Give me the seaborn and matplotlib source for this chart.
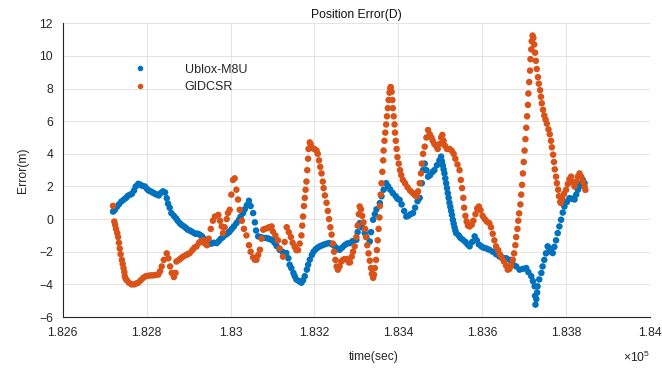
import matplotlib
matplotlib.use("Agg")
import matplotlib.pyplot as plt
import pandas as pd
import seaborn as sns
from matplotlib.ticker import FuncFormatter

# ---------------- data ----------------
ublox_time = [
    182720, 182724, 182729, 182734, 182740, 182746, 182751, 182755, 182760, 182765,
    182770, 182774, 182780, 182784, 182789, 182796, 182801, 182805, 182810, 182815,
    182820, 182824, 182829, 182834, 182839, 182844, 182848, 182851, 182855, 182859,
    182865, 182870, 182874, 182879, 182883, 182889, 182894, 182898, 182903, 182907,
    182913, 182917, 182922, 182927, 182932, 182936, 182941, 182946, 182951, 182955,
    182960, 182967, 182972, 182977, 182982, 182989, 182994, 182998, 183003, 183008,
    183014, 183020, 183024, 183030, 183034, 183039, 183044, 183048, 183054, 183058,
    183061, 183066, 183072, 183079, 183086, 183091, 183096, 183101, 183105, 183110,
    183117, 183124, 183133, 183138, 183141, 183145, 183150, 183153, 183157, 183163,
    183169, 183173, 183177, 183182, 183185, 183189, 183194, 183198, 183203, 183208,
    183213, 183219, 183224, 183230, 183236, 183242, 183248, 183254, 183260, 183266,
    183272, 183278, 183284, 183291, 183300, 183303, 183308, 183313, 183320, 183324,
    183332, 183335, 183340, 183344, 183348, 183356, 183360, 183365, 183371, 183376,
    183381, 183387, 183394, 183398, 183403, 183408, 183414, 183419, 183424, 183429,
    183435, 183440, 183446, 183451, 183456, 183459, 183463, 183467, 183471, 183476,
    183482, 183486, 183492, 183498, 183502, 183504, 183506, 183508, 183510, 183512,
    183514, 183516, 183518, 183520, 183522, 183524, 183526, 183528, 183530, 183532,
    183534, 183536, 183538, 183544, 183548, 183554, 183560, 183565, 183570, 183576,
    183582, 183587, 183592, 183598, 183603, 183610, 183617, 183625, 183633, 183641,
    183648, 183657, 183665, 183672, 183681, 183689, 183697, 183705, 183710, 183717,
    183721, 183725, 183726, 183727, 183729, 183731, 183732, 183736, 183741, 183744,
    183748, 183752, 183756, 183760, 183764, 183768, 183772, 183776, 183780, 183784,
    183788, 183792, 183796, 183802, 183808, 183814, 183820, 183824, 183828, 183832,
    183836, 183840, 183844,
]
ublox_err = [
    0.46, 0.55, 0.75, 0.9, 1.08, 1.2, 1.3, 1.42, 1.49, 1.55,
    1.75, 2.0, 2.16, 2.12, 2.05, 2.0, 1.85, 1.75, 1.7, 1.62,
    1.55, 1.5, 1.45, 1.6, 1.7, 1.63, 1.28, 0.95, 0.7, 0.37,
    0.2, 0.05, -0.1, -0.25, -0.35, -0.45, -0.55, -0.65, -0.7, -0.76,
    -0.85, -0.9, -0.9, -0.96, -1.05, -1.2, -1.3, -1.4, -1.5, -1.5,
    -1.45, -1.47, -1.35, -1.2, -1.1, -0.95, -0.85, -0.76, -0.6, -0.45,
    -0.25, -0.05, 0.15, 0.37, 0.6, 0.85, 1.12, 0.8, 0.37, -0.2,
    -0.7, -1.06, -1.1, -1.15, -1.16, -1.2, -1.25, -1.3, -1.45, -1.65,
    -1.88, -2.0, -2.08, -2.4, -2.8, -3.0, -3.3, -3.5, -3.7, -3.8,
    -3.9, -3.75, -3.5, -3.1, -2.8, -2.49, -2.2, -2.0, -1.85, -1.75,
    -1.67, -1.6, -1.55, -1.5, -1.47, -1.55, -1.65, -1.8, -1.88, -1.75,
    -1.6, -1.5, -1.47, -1.35, -1.27, -0.8, -0.25, -0.5, -0.86, -1.1,
    -1.37, -0.8, -0.04, 0.3, 0.6, 0.98, 1.4, 1.8, 2.2, 2.0,
    1.8, 1.59, 1.4, 1.25, 1.18, 0.9, 0.5, 0.16, 0.2, 0.3,
    0.37, 0.7, 1.1, 1.3, 2.2, 3.0, 3.4, 3.0, 2.6, 2.7,
    2.9, 3.0, 3.3, 3.6, 3.83, 3.55, 3.3, 3.05, 2.8, 2.5,
    2.2, 1.9, 1.59, 1.3, 1.0, 0.75, 0.5, 0.25, -0.04, -0.27,
    -0.5, -0.7, -0.86, -1.0, -1.15, -1.27, -1.4, -1.55, -1.67, -1.4,
    -1.06, -1.3, -1.55, -1.67, -1.75, -1.8, -1.88, -2.0, -2.15, -2.29,
    -2.35, -2.4, -2.49, -2.7, -2.9, -3.1, -3.05, -3.0, -3.25, -3.5,
    -3.8, -4.12, -4.7, -5.24, -4.9, -4.5, -4.12, -3.7, -3.3, -2.9,
    -2.5, -2.1, -1.67, -1.8, -2.0, -2.08, -1.7, -1.3, -0.86, -0.45,
    -0.04, 0.4, 0.77, 1.05, 1.28, 1.25, 1.2, 1.5, 1.79, 2.0,
    2.2, 2.4, 2.2,
]

gidcsr_time = [
    182720, 182723, 182725, 182727, 182730, 182732, 182734, 182736, 182738, 182741,
    182743, 182745, 182747, 182748, 182750, 182753, 182758, 182764, 182770, 182775,
    182780, 182786, 182792, 182798, 182804, 182810, 182816, 182822, 182828, 182832,
    182836, 182841, 182848, 182852, 182856, 182860, 182865, 182869, 182871, 182877,
    182882, 182887, 182894, 182898, 182903, 182909, 182914, 182919, 182925, 182929,
    182935, 182939, 182944, 182948, 182953, 182958, 182963, 182971, 182975, 182979,
    182982, 182986, 182991, 182994, 182998, 183002, 183006, 183010, 183014, 183018,
    183022, 183027, 183032, 183038, 183044, 183048, 183054, 183058, 183062, 183066,
    183070, 183074, 183078, 183082, 183088, 183092, 183098, 183101, 183107, 183113,
    183117, 183125, 183129, 183134, 183139, 183144, 183148, 183153, 183157, 183161,
    183165, 183169, 183171, 183173, 183175, 183177, 183179, 183181, 183183, 183185,
    183186, 183189, 183191, 183195, 183200, 183205, 183208, 183211, 183214, 183217,
    183220, 183222, 183225, 183229, 183232, 183235, 183238, 183241, 183244, 183247,
    183250, 183253, 183256, 183260, 183264, 183268, 183272, 183277, 183282, 183285,
    183289, 183292, 183296, 183300, 183303, 183306, 183308, 183311, 183314, 183317,
    183321, 183323, 183326, 183329, 183332, 183335, 183337, 183340, 183342, 183344,
    183347, 183349, 183351, 183353, 183355, 183356, 183358, 183360, 183362, 183364,
    183365, 183367, 183369, 183371, 183373, 183375, 183377, 183379, 183381, 183382,
    183384, 183386, 183387, 183389, 183391, 183392, 183394, 183396, 183398, 183401,
    183404, 183407, 183411, 183416, 183422, 183428, 183434, 183440, 183444, 183447,
    183451, 183454, 183456, 183459, 183463, 183467, 183471, 183475, 183479, 183482,
    183486, 183491, 183494, 183498, 183502, 183505, 183508, 183511, 183516, 183522,
    183527, 183532, 183536, 183541, 183546, 183549, 183552, 183555, 183557, 183560,
    183563, 183566, 183570, 183575, 183579, 183584, 183588, 183592, 183596, 183601,
    183606, 183611, 183617, 183621, 183625, 183629, 183633, 183638, 183642, 183647,
    183652, 183657, 183661, 183665, 183669, 183673, 183676, 183679, 183681, 183684,
    183686, 183688, 183691, 183693, 183695, 183697, 183699, 183701, 183703, 183705,
    183707, 183709, 183710, 183712, 183714, 183715, 183717, 183718, 183720, 183722,
    183724, 183726, 183728, 183730, 183733, 183735, 183738, 183740, 183742, 183745,
    183748, 183751, 183754, 183758, 183761, 183764, 183766, 183769, 183771, 183773,
    183776, 183778, 183781, 183783, 183786, 183788, 183791, 183795, 183800, 183804,
    183808, 183812, 183816, 183820, 183824, 183828, 183832, 183836, 183840, 183844,
    183846,
]
gidcsr_err = [
    0.81, -0.15, -0.35, -0.6, -0.85, -1.1, -1.45, -1.8, -2.15, -2.5,
    -2.75, -3.0, -3.25, -3.5, -3.65, -3.75, -3.9, -4.0, -4.0, -3.95,
    -3.9, -3.75, -3.6, -3.5, -3.47, -3.45, -3.45, -3.42, -3.4, -3.2,
    -2.9, -2.5, -2.1, -2.4, -2.9, -3.3, -3.55, -3.3, -2.6, -2.5,
    -2.4, -2.3, -2.2, -2.15, -2.08, -1.9, -1.75, -1.67, -1.45, -1.35,
    -1.3, -1.5, -1.6, -1.2, -0.6, -0.1, 0.16, 0.26, -0.1, -0.45,
    -0.86, -0.5, 0.0, 0.37, 0.57, 1.5, 2.4, 2.5, 1.8, 1.2,
    0.57, -0.1, -0.6, -1.0, -1.6, -2.0, -2.35, -2.49, -2.49, -2.2,
    -1.88, -1.2, -0.65, -0.6, -0.55, -0.5, -0.45, -0.76, -1.0, -1.3,
    -1.8, -2.3, -1.4, -0.5, -0.8, -1.1, -1.45, -1.7, -1.9, -1.9,
    -1.5, -1.0, -0.4, 0.16, 0.8, 1.3, 1.8, 2.3, 3.0, 3.7,
    4.3, 4.7, 4.6, 4.35, 4.3, 4.2, 4.0, 3.6, 3.2, 2.8,
    2.3, 1.9, 1.45, 1.0, 0.5, 0.0, -0.5, -0.95, -1.5, -2.0,
    -2.5, -2.9, -3.1, -2.9, -2.6, -2.5, -2.45, -2.45, -2.65, -2.65,
    -2.3, -2.0, -1.67, -1.1, -0.4, 0.3, 0.77, 0.6, 0.2, -0.2,
    -0.6, -1.1, -1.6, -2.1, -2.55, -3.0, -3.35, -3.6, -3.4, -3.0,
    -2.5, -1.9, -1.3, -0.6, 0.1, 0.8, 1.5, 2.2, 2.9, 3.6,
    4.2, 4.8, 5.3, 5.8, 6.3, 6.8, 7.3, 7.75, 8.0, 8.1,
    7.8, 7.3, 6.8, 6.3, 5.8, 5.3, 4.8, 4.3, 3.8, 3.4,
    3.0, 2.7, 2.4, 2.2, 1.95, 1.75, 1.6, 1.45, 1.4, 1.7,
    2.2, 2.8, 3.4, 4.0, 4.44, 5.0, 5.46, 5.2, 5.0, 4.8,
    4.6, 4.45, 4.3, 4.6, 5.0, 5.16, 4.8, 4.5, 4.3, 4.3,
    4.2, 4.0, 3.7, 3.35, 3.0, 2.4, 1.9, 1.3, 0.7, 0.2,
    -0.15, -0.4, -0.45, -0.35, -0.1, 0.3, 0.65, 0.77, 0.55, 0.2,
    0.0, -0.15, -0.25, -0.5, -0.9, -1.3, -1.67, -1.9, -2.15, -2.4,
    -2.6, -2.85, -3.1, -3.05, -2.85, -2.49, -2.1, -1.6, -1.1, -0.6,
    -0.1, 0.35, 0.9, 1.5, 2.1, 2.8, 3.5, 4.2, 4.9, 5.6,
    6.3, 7.0, 7.7, 8.4, 9.1, 9.8, 10.4, 10.9, 11.25, 11.1,
    10.7, 10.2, 9.7, 9.2, 8.7, 8.3, 7.9, 7.5, 7.1, 6.7,
    6.35, 6.1, 5.85, 5.5, 5.2, 4.8, 4.4, 3.95, 3.5, 3.05,
    2.6, 2.2, 1.8, 1.4, 1.05, 0.98, 1.25, 1.55, 1.8, 2.15,
    2.45, 2.6, 2.25, 2.0, 2.3, 2.6, 2.8, 2.6, 2.3, 2.0,
    1.79,
]

series_names = ["Ublox-M8U", "GIDCSR"]
series_colors = ["#0072BD", "#D95319"]
x_ticks = [182600, 182800, 183000, 183200, 183400, 183600, 183800, 184000]
y_ticks = [-6, -4, -2, 0, 2, 4, 6, 8, 10, 12]
title_text = "Position Error(D)"
x_label = "time(sec)"
y_label = "Error(m)"

assert len(ublox_time) == len(ublox_err)
assert len(gidcsr_time) == len(gidcsr_err)

# ---------------- styling ----------------
sns.set_style("white")
plt.rcParams["font.family"] = ["Liberation Sans", "DejaVu Sans"]
plt.rcParams["mathtext.fontset"] = "custom"
plt.rcParams["mathtext.rm"] = "Liberation Sans"
plt.rcParams["mathtext.it"] = "Liberation Sans"

df = pd.DataFrame({
    "time": ublox_time + gidcsr_time,
    "error": ublox_err + gidcsr_err,
    "series": [series_names[0]] * len(ublox_time) + [series_names[1]] * len(gidcsr_time),
})

fig = plt.figure(figsize=(6.62, 3.68), dpi=100)
ax = fig.add_axes([62.7 / 662, 1 - 317 / 368, (650 - 62.7) / 662, (317 - 23.3) / 368])

sns.scatterplot(data=df, x="time", y="error", hue="series", hue_order=series_names,
                palette=series_colors, s=22, linewidth=0, edgecolor="none",
                ax=ax, legend=True, zorder=3)

ax.set_xlim(182600, 184000)
ax.set_ylim(-6, 12)
ax.set_xticks(x_ticks)
ax.set_yticks(y_ticks)
ax.xaxis.set_major_formatter(FuncFormatter(lambda v, p: f"{v / 1e5:g}"))

ax.grid(True, color="#dedede", linewidth=0.6)
ax.set_axisbelow(True)
for s in ["top", "right"]:
    ax.spines[s].set_visible(False)
for s in ["left", "bottom"]:
    ax.spines[s].set_color("#262626")
    ax.spines[s].set_linewidth(0.8)
ax.tick_params(direction="in", length=4.5, width=0.8, color="#262626",
               labelcolor="#262626", labelsize=8.7, pad=7)

ax.set_title(title_text, fontsize=8.7, color="#111111", pad=4)
ax.set_xlabel(x_label, fontsize=8.7, color="#262626")
ax.set_ylabel(y_label, fontsize=8.7, color="#262626")
ax.xaxis.set_label_coords(0.530, -0.116)
ax.yaxis.set_label_coords(-0.058, 0.5)

fig.text(650 / 662, 1 - 357 / 368, r"$\times10^{5}$", ha="right", va="center",
         fontsize=8.7, color="#262626")

handles, labels = ax.get_legend_handles_labels()
ax.legend(handles, labels, loc="upper left", bbox_to_anchor=(0.110, 0.862),
          frameon=False, fontsize=9, handlelength=2.0, handletextpad=2.6,
          labelspacing=0.45, borderpad=0, borderaxespad=0, markerscale=0.85)

fig.savefig("out.png", dpi=100)
